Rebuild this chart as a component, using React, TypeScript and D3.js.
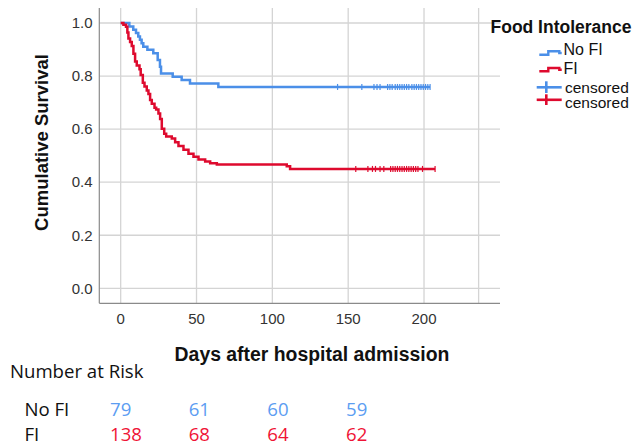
import React from 'react';
import * as d3 from 'd3';

// Kaplan-Meier steps: time (days) and survival after the drop
const noFiTime = [0, 5.7, 8.3, 10.1, 11.6, 12.7, 13.8, 14.9, 17.6, 21.5, 24.4, 25.9, 26.6, 34.3, 40.2, 45.7, 64.4];
const noFiSurv = [1.0, 0.987, 0.975, 0.962, 0.949, 0.937, 0.924, 0.911, 0.899, 0.886, 0.861, 0.835, 0.81, 0.797, 0.785, 0.772, 0.759];
const noFiEnd = 204;
const noFiCensored = [143, 159, 167, 169, 171, 176, 177.5, 179, 181, 182.5, 184, 185.5, 187, 188.5, 190, 192, 193.5, 195, 196.5, 198, 199.5, 201, 202.5, 204];

const fiTime = [0, 1.8, 3.5, 4.4, 5.1, 6.2, 7.3, 8.4, 9.5, 10.6, 12.4, 13.2, 14.6, 15.7, 17.2, 18.3, 19.4, 20.5, 22.3, 23.4, 24.9, 26.0, 27.1, 28.7, 30.0, 33.7, 35.9, 38.1, 41.4, 44.7, 48.0, 51.3, 55.7, 59.0, 63.4, 109.5, 111.7];
const fiSurv = [1.0, 0.993, 0.986, 0.964, 0.942, 0.928, 0.913, 0.884, 0.855, 0.84, 0.826, 0.804, 0.775, 0.761, 0.746, 0.732, 0.71, 0.696, 0.681, 0.674, 0.659, 0.638, 0.601, 0.583, 0.572, 0.565, 0.551, 0.536, 0.522, 0.507, 0.496, 0.486, 0.478, 0.471, 0.467, 0.46, 0.45];
const fiEnd = 207.3;
const fiCensored = [155, 163, 166, 168, 171, 173.5, 178, 179.5, 181, 182.5, 184, 185.5, 187, 188.5, 190, 191.5, 193, 194.5, 196, 199, 207.3];

const xTicks = [0, 50, 100, 150, 200];
const xGrid = [0, 50, 100, 150, 200, 236];
const yTicks = [0, 0.2, 0.4, 0.6, 0.8, 1.0];

const riskTimes = [0, 50, 100, 150];
const noFiRisk = [79, 61, 60, 59];
const fiRisk = [138, 68, 64, 62];

const BLUE = '#4b8fe8';
const RED = '#de0a2e';
const BLUE_TXT = '#5c9df2';
const RED_TXT = '#ef1436';

const x = d3.scaleLinear().domain([-14.1, 250.1]).range([99.3, 500]);
const y = d3.scaleLinear().domain([-0.0565, 1.0566]).range([303.3, 8]);
const riskX = d3.scaleLinear().domain([0, 150]).range([110, 346]);

function stepPath(times: number[], surv: number[], end: number) {
  const pts: [number, number][] = times.map((t, i) => [t, surv[i]]);
  pts.push([end, surv[surv.length - 1]]);
  const line = d3.line<[number, number]>()
    .x(d => x(d[0]))
    .y(d => y(d[1]))
    .curve(d3.curveStepAfter);
  return line(pts) || '';
}

function survAt(times: number[], surv: number[], t: number) {
  const i = d3.bisectRight(times, t) - 1;
  return surv[Math.max(0, i)];
}

export default function App() {
  const sans = '"Liberation Sans", Arial, sans-serif';
  const risk = '"Open Sans", sans-serif';
  return (
    <svg width={644} height={444} style={{ position: 'absolute', left: 0, top: 0, background: '#fff' }}>
      {/* grid */}
      {xGrid.map(t => (
        <line key={'gx' + t} x1={x(t)} x2={x(t)} y1={8} y2={303.3} stroke="#d4d4d4" strokeWidth={1.3} />
      ))}
      {yTicks.map(v => (
        <line key={'gy' + v} x1={99.3} x2={500} y1={y(v)} y2={y(v)} stroke="#d4d4d4" strokeWidth={1.3} />
      ))}
      {/* axes */}
      <line x1={99.3} x2={99.3} y1={8} y2={303.3} stroke="#8a8a8a" strokeWidth={1.2} />
      <line x1={99.3} x2={500} y1={303.3} y2={303.3} stroke="#8a8a8a" strokeWidth={1.2} />

      {yTicks.map(v => (
        <text key={'yt' + v} x={92.5} y={y(v) + 5.3} textAnchor="end" fontFamily={sans} fontSize={15} fill="#333">
          {v.toFixed(1)}
        </text>
      ))}
      {xTicks.map(t => (
        <text key={'xt' + t} x={x(t)} y={324} textAnchor="middle" fontFamily={sans} fontSize={15} fill="#333">
          {t}
        </text>
      ))}

      <text transform="translate(48,142.5) rotate(-90)" textAnchor="middle" fontFamily={sans} fontSize={18.5} fontWeight="bold" fill="#111">
        Cumulative Survival
      </text>
      <text x={312} y={361} textAnchor="middle" fontFamily={sans} fontSize={19.4} fontWeight="bold" fill="#111">
        Days after hospital admission
      </text>

      {/* curves */}
      <path d={stepPath(noFiTime, noFiSurv, noFiEnd)} fill="none" stroke={BLUE} strokeWidth={2.5} />
      <path d={stepPath(fiTime, fiSurv, fiEnd)} fill="none" stroke={RED} strokeWidth={2.5} />
      {noFiCensored.map((t, i) => {
        const v = y(survAt(noFiTime, noFiSurv, t));
        return <line key={'cb' + i} x1={x(t)} x2={x(t)} y1={v - 3} y2={v + 3} stroke={BLUE} strokeWidth={1.2} />;
      })}
      {fiCensored.map((t, i) => {
        const v = y(survAt(fiTime, fiSurv, t));
        return <line key={'cr' + i} x1={x(t)} x2={x(t)} y1={v - 3} y2={v + 3} stroke={RED} strokeWidth={1.2} />;
      })}

      {/* legend */}
      <text x={490.5} y={33.3} fontFamily={sans} fontSize={17.5} fontWeight="bold" fill="#111">Food Intolerance</text>
      <path d="M539.3,54.7 H548.3 V51.3 H559.3 V53 H561.7" fill="none" stroke={BLUE} strokeWidth={2.4} />
      <text x={563.5} y={54.5} fontFamily={sans} fontSize={16} fill="#111">No FI</text>
      <path d="M539.3,71.3 H548.3 V68 H559.3 V69.7 H561.7" fill="none" stroke={RED} strokeWidth={2.4} />
      <text x={563.5} y={74} fontFamily={sans} fontSize={16} fill="#111">FI</text>
      <line x1={536.7} x2={561.7} y1={87.3} y2={87.3} stroke={BLUE} strokeWidth={2.6} />
      <line x1={546.3} x2={546.3} y1={81.3} y2={93} stroke={BLUE} strokeWidth={2.6} />
      <text x={565} y={92.5} fontFamily={sans} fontSize={15.5} fill="#111">censored</text>
      <line x1={536.7} x2={561.7} y1={99.8} y2={99.8} stroke={RED} strokeWidth={2.6} />
      <line x1={546.3} x2={546.3} y1={94.3} y2={105} stroke={RED} strokeWidth={2.6} />
      <text x={565} y={107.5} fontFamily={sans} fontSize={15.5} fill="#111">censored</text>

      {/* number at risk */}
      <text x={10} y={377.7} fontFamily={risk} fontSize={18.6} fill="#111">Number at Risk</text>
      <text x={24.5} y={416} fontFamily={risk} fontSize={18.6} fill="#111">No FI</text>
      <text x={24.5} y={440.5} fontFamily={risk} fontSize={18.6} fill="#111">FI</text>
      {riskTimes.map((t, i) => (
        <text key={'rn' + t} x={riskX(t)} y={415.5} fontFamily={risk} fontSize={18.6} fill={BLUE_TXT}>{noFiRisk[i]}</text>
      ))}
      {riskTimes.map((t, i) => (
        <text key={'rf' + t} x={riskX(t)} y={440.5} fontFamily={risk} fontSize={18.6} fill={RED_TXT}>{fiRisk[i]}</text>
      ))}
    </svg>
  );
}
